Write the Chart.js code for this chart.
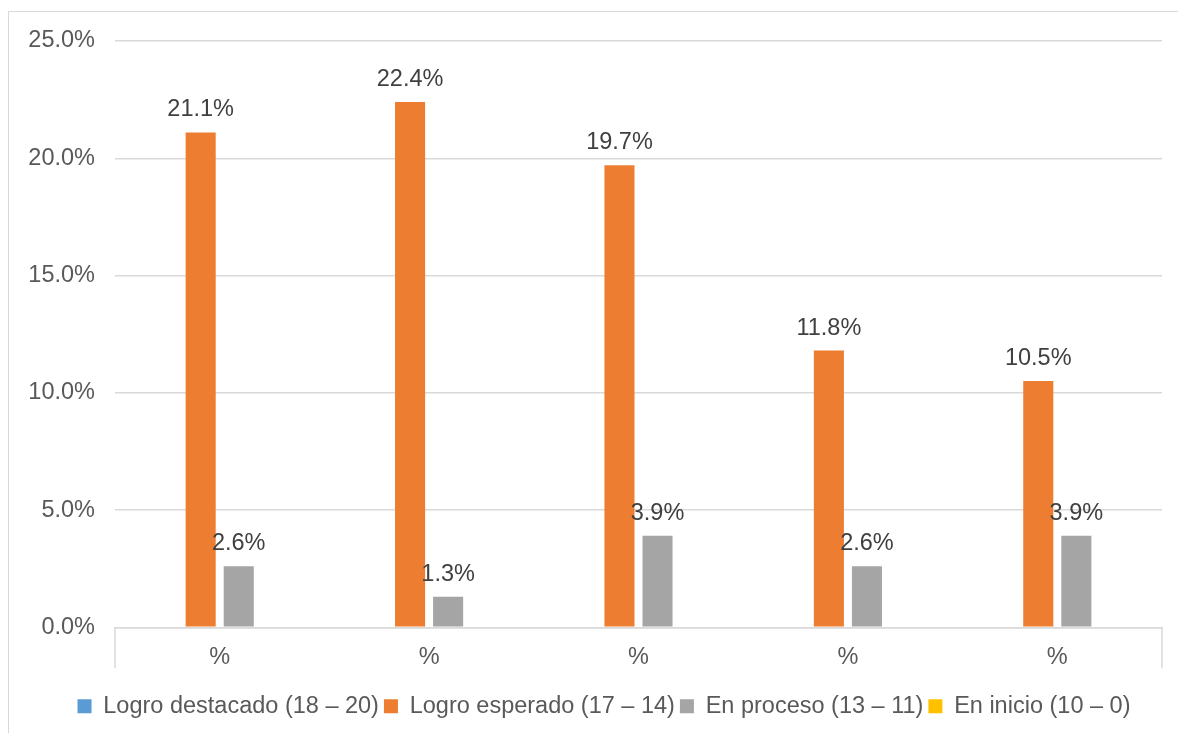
<!DOCTYPE html>
<html>
<head>
<meta charset="utf-8">
<script src="https://cdn.jsdelivr.net/npm/chart.js@4.4.0/dist/chart.umd.min.js"></script>
<style>
  html, body { margin: 0; padding: 0; background: #fff; }
  #frame { position: absolute; left: 8px; top: 11px; width: 1200px; height: 760px; border: 1px solid #d9d9d9; }
  #wrap { position: absolute; left: 0; top: 0; width: 1178px; height: 733px; }
</style>
</head>
<body>
<div id="frame"></div>
<div id="wrap"><canvas id="grafico"></canvas></div>
<script>
// categorias y series
const categorias = ["%", "%", "%", "%", "%"];
const destacado = [0, 0, 0, 0, 0];
const esperado = [21.1, 22.4, 19.7, 11.8, 10.5];
const proceso = [2.6, 1.3, 3.9, 2.6, 3.9];
const inicio = [0, 0, 0, 0, 0];
const ticksY = [0, 5, 10, 15, 20, 25];

const gris = "#595959";
const linea = "#d9d9d9";
const fuente = "'Liberation Sans', Arial, sans-serif";

// etiquetas encima de cada barra
const etiquetas = {
  id: "etiquetas",
  afterDatasetsDraw(chart) {
    const ctx = chart.ctx;
    ctx.save();
    ctx.font = "23.5px " + fuente;
    ctx.fillStyle = "#404040";
    ctx.textAlign = "center";
    ctx.textBaseline = "alphabetic";
    chart.data.datasets.forEach((ds, i) => {
      const meta = chart.getDatasetMeta(i);
      meta.data.forEach((bar, j) => {
        const v = ds.data[j];
        if (!v) return;
        ctx.fillText(v.toFixed(1) + "%", bar.x, bar.y - 16);
      });
    });
    ctx.restore();
  }
};

// lineas verticales en los extremos del eje x
const bordesX = {
  id: "bordesX",
  afterLayout(chart) {
    // la leyenda queda centrada bajo el area de graficos, no bajo todo el lienzo
    chart.legend.left += 46;
  },
  afterDraw(chart) {
    const a = chart.chartArea;
    const ctx = chart.ctx;
    ctx.save();
    ctx.strokeStyle = linea;
    ctx.lineWidth = 1.5;
    [a.left, a.right].forEach(x => {
      ctx.beginPath();
      ctx.moveTo(x, a.bottom);
      ctx.lineTo(x, a.bottom + 41);
      ctx.stroke();
    });
    ctx.restore();
  }
};

new Chart(document.getElementById("grafico"), {
  type: "bar",
  data: {
    labels: categorias,
    datasets: [
      { label: "Logro destacado (18 – 20)", data: destacado, backgroundColor: "#5b9bd5" },
      { label: "Logro esperado (17 – 14)", data: esperado, backgroundColor: "#ed7d31" },
      { label: "En proceso (13 – 11)", data: proceso, backgroundColor: "#a5a5a5" },
      { label: "En inicio (10 – 0)", data: inicio, backgroundColor: "#ffc000" }
    ]
  },
  options: {
    responsive: true,
    maintainAspectRatio: false,
    animation: false,
    categoryPercentage: 0.727,
    barPercentage: 0.79,
    layout: { padding: { top: 41, right: 16, bottom: 5, left: 0 } },
    plugins: {
      tooltip: { enabled: false },
      legend: {
        position: "bottom",
        labels: {
          boxWidth: 14,
          boxHeight: 14,
          padding: 5,
          color: gris,
          font: { family: fuente, size: 23.5 }
        }
      }
    },
    scales: {
      x: {
        afterFit(scale) { scale.height += 2; },
        grid: { display: false, drawTicks: false },
        border: { color: linea, width: 1.5 },
        ticks: {
          color: gris,
          padding: 16,
          font: { family: fuente, size: 23.5 }
        }
      },
      y: {
        min: 0,
        max: 25,
        afterBuildTicks(scale) {
          scale.ticks = ticksY.map(v => ({ value: v }));
        },
        afterFit(scale) { scale.width = 115; },
        grid: { color: linea, lineWidth: 1.5, drawTicks: false },
        border: { display: false },
        ticks: {
          color: gris,
          padding: 20,
          font: { family: fuente, size: 23.5 },
          callback: v => v.toFixed(1) + "%"
        }
      }
    }
  },
  plugins: [etiquetas, bordesX]
});
</script>
</body>
</html>
